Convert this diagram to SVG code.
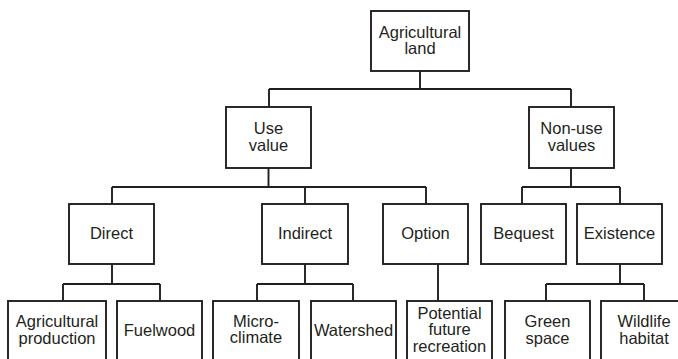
<svg xmlns="http://www.w3.org/2000/svg" width="678" height="359" viewBox="0 0 678 359">
<style>
rect{fill:#fff;stroke:#231f20;stroke-width:1.9}
.c path{fill:none;stroke:#231f20;stroke-width:1.9}
text{font-family:"Liberation Sans",Arial,sans-serif;font-size:16.5px;fill:#231f20;text-anchor:middle}
</style>
<rect x="0" y="0" width="678" height="359" style="stroke:none;fill:#fff"/>
<g class="c" id="connectors">
<path d="M420 71V89M269 89H571M269 89V107M571 89V107"/>
<path d="M268.5 168V187M112 187H426M112 187V204M305 187V204M426 187V204"/>
<path d="M571 168V187M522 187H620M522 187V204M620 187V204"/>
<path d="M112 264V284M63 284H160M63 284V301M160 284V301"/>
<path d="M305 264V284M257 284H353M257 284V301M353 284V301"/>
<path d="M438 264V301"/>
<path d="M620 264V284M546 284H644M546 284V301M644 284V301"/>
</g>
<g id="n_land"><rect x="371" y="11" width="98" height="60"/><text x="420" y="37.5">Agricultural</text><text x="420" y="54">land</text></g>
<g id="n_use"><rect x="226" y="107" width="85" height="61"/><text x="268.5" y="134">Use</text><text x="268.5" y="150.5">value</text></g>
<g id="n_nonuse"><rect x="529" y="107" width="85" height="61"/><text x="571.5" y="134">Non-use</text><text x="571.5" y="150.5">values</text></g>
<g id="n_direct"><rect x="69" y="204" width="85" height="60"/><text x="111.5" y="238.5">Direct</text></g>
<g id="n_indirect"><rect x="262" y="204" width="86" height="60"/><text x="305" y="238.5">Indirect</text></g>
<g id="n_option"><rect x="383" y="204" width="85" height="60"/><text x="425.5" y="238.5">Option</text></g>
<g id="n_bequest"><rect x="481" y="204" width="85" height="60"/><text x="523.5" y="238.5">Bequest</text></g>
<g id="n_existence"><rect x="577" y="204" width="85" height="60"/><text x="619.5" y="238.5">Existence</text></g>
<g id="n_agprod"><rect x="8" y="301" width="98" height="70"/><text x="57" y="327">Agricultural</text><text x="57" y="343.5">production</text></g>
<g id="n_fuelwood"><rect x="117" y="301" width="85" height="70"/><text x="159.5" y="336">Fuelwood</text></g>
<g id="n_micro"><rect x="213" y="301" width="86" height="70"/><text x="256" y="326.5">Micro-</text><text x="256" y="343">climate</text></g>
<g id="n_watershed"><rect x="311" y="301" width="85" height="70"/><text x="353.5" y="336">Watershed</text></g>
<g id="n_potential"><rect x="407" y="301" width="85" height="70"/><text x="449.5" y="318.5">Potential</text><text x="449.5" y="335">future</text><text x="449.5" y="351.5">recreation</text></g>
<g id="n_green"><rect x="505" y="301" width="85" height="70"/><text x="547.5" y="327">Green</text><text x="547.5" y="343.5">space</text></g>
<g id="n_wildlife"><rect x="601" y="301" width="86" height="70"/><text x="644" y="327">Wildlife</text><text x="644" y="343.5">habitat</text></g>
</svg>
